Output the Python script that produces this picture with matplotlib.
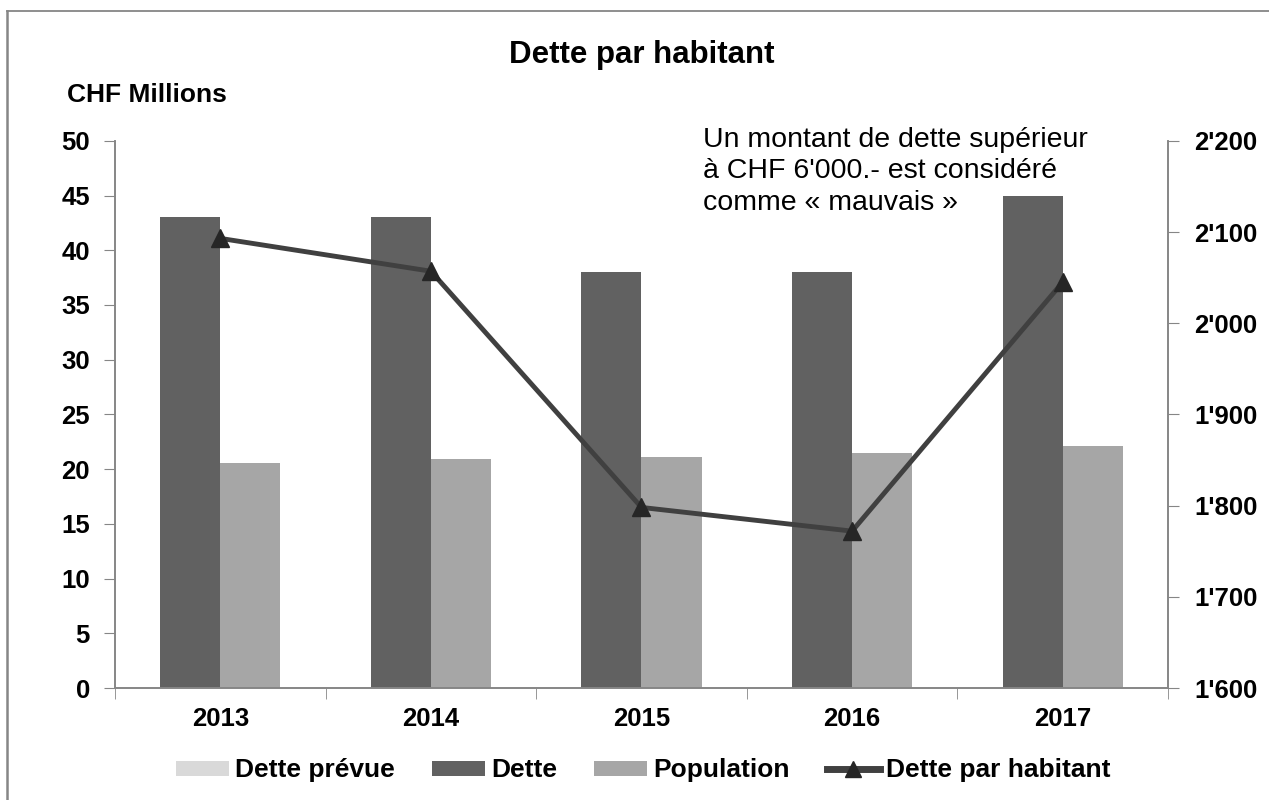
import matplotlib
matplotlib.use("Agg")
import matplotlib.pyplot as plt
from matplotlib.lines import Line2D
import numpy as np

plt.rcParams['font.family'] = ['Liberation Sans', 'DejaVu Sans']

# data
years = ["2013", "2014", "2015", "2016", "2017"]
dette_prevue = [0, 0, 0, 0, 0]
dette = [43, 43, 38, 38, 45]
population = [20.6, 20.9, 21.1, 21.5, 22.1]
dette_par_hab = [2093, 2057, 1798, 1772, 2045]

fig = plt.figure(figsize=(12.69, 8), dpi=100)
ax = fig.add_axes([0.0906, 0.14, 0.8298, 0.684])
ax2 = ax.twinx()

x = np.arange(len(years))
w = 0.285
ax.bar(x - w / 2, dette_prevue, w, color="#d9d9d9", label="Dette prévue")
ax.bar(x - w / 2, dette, w, color="#616161", label="Dette")
ax.bar(x + w / 2, population, w, color="#a6a6a6", label="Population")
ax2.plot(x, dette_par_hab, color="#404040", lw=3.5, marker="^",
         markersize=13, markerfacecolor="#262626", markeredgecolor="#262626",
         label="Dette par habitant")

ax.set_xlim(-0.5, len(years) - 0.5)
ax.set_ylim(0, 50)
ax.set_yticks(range(0, 51, 5))
ax2.set_ylim(1600, 2200)
ax2.set_yticks(range(1600, 2201, 100))
ax2.set_yticklabels(["{}'{:03d}".format(v // 1000, v % 1000) for v in range(1600, 2201, 100)])

ax.set_xticks(x)
ax.set_xticklabels(years)
ax.set_xticks(np.arange(-0.5, len(years), 1), minor=True)
ax.tick_params(axis="x", which="major", length=0, pad=14)
ax.tick_params(axis="x", which="minor", length=8, color="#868686", direction="out")

for a in (ax, ax2):
    a.spines["top"].set_visible(False)
    for s in ("left", "right", "bottom"):
        a.spines[s].set_color("#868686")
        a.spines[s].set_linewidth(1.2)
ax.tick_params(axis="y", length=8, color="#868686", pad=10)
ax2.tick_params(axis="y", length=8, color="#868686", pad=11)

for lab in ax.get_xticklabels() + ax.get_yticklabels() + ax2.get_yticklabels():
    lab.set_fontsize(18.5)
    lab.set_fontweight("bold")

fig.text(0.506, 0.931, "Dette par habitant", ha="center", va="center",
         fontsize=22.5, fontweight="bold")
fig.text(0.053, 0.881, "CHF Millions", ha="left", va="center",
         fontsize=19, fontweight="bold")
fig.text(0.554, 0.786, "Un montant de dette supérieur\nà CHF 6'000.- est considéré\ncomme « mauvais »",
         ha="left", va="center", fontsize=20.5, linespacing=1.27)

h1, l1 = ax.get_legend_handles_labels()
h2, l2 = ax2.get_legend_handles_labels()
h2 = [Line2D([], [], color="#404040", lw=5, marker="^", markersize=11,
             markerfacecolor="#262626", markeredgecolor="#262626")]
fig.legend(h1 + h2, l1 + l2, loc="center", bbox_to_anchor=(0.507, 0.037), ncol=4,
           frameon=False, prop={"size": 19, "weight": "bold"},
           handlelength=2.0, handleheight=0.5, handletextpad=0.25, columnspacing=1.4)

# frame: only top and left edges fall inside the picture
fig.add_artist(Line2D([7 / 1269, 1.0], [1 - 11 / 800, 1 - 11 / 800], transform=fig.transFigure,
                      color="#868686", lw=1.3))
fig.add_artist(Line2D([7 / 1269, 7 / 1269], [0.0, 1 - 11 / 800], transform=fig.transFigure,
                      color="#868686", lw=1.8))

fig.savefig("out.png", dpi=100)
